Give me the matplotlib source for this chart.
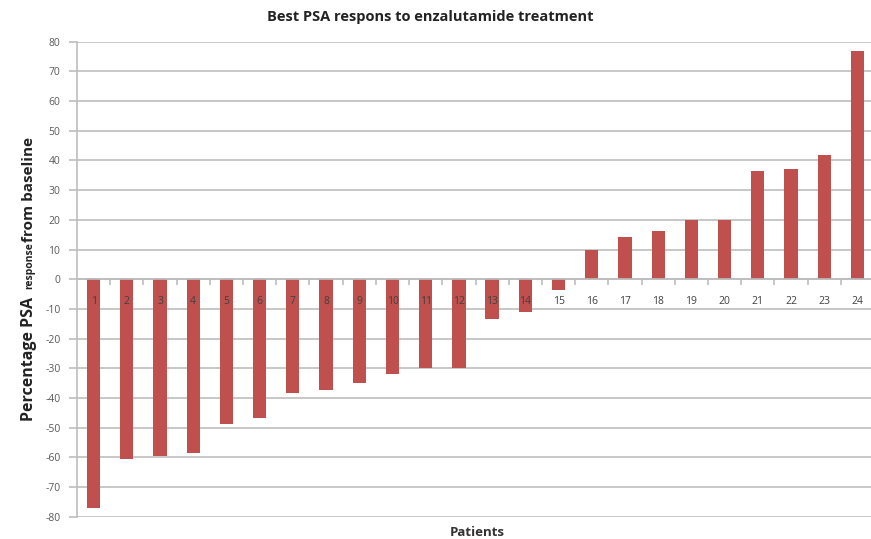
import matplotlib
matplotlib.use("Agg")
import matplotlib.pyplot as plt
import numpy as np

# best PSA response per patient (% change from baseline)
patients = list(range(1, 25))
psa_change = [-77, -60.5, -59.6, -58.6, -48.8, -46.8, -38.5, -37.3, -35, -31.9, -29.9, -29.8,
              -13.3, -11.2, -3.5, 9.7, 14.3, 16.1, 19.8, 20, 36.3, 37.2, 42, 76.8]
y_ticks = list(range(-80, 90, 10))

BAR_COLOR = "#C0504D"
GRID = "#bdbdbd"
TXT = "#595959"

plt.rcParams['font.family'] = ['Open Sans', 'DejaVu Sans']

fig = plt.figure(figsize=(8.71, 5.39), dpi=100)
ax = fig.add_axes([77 / 871, 1 - 516.7 / 539, 797 / 871, 475 / 539])

ax.bar(patients, psa_change, width=0.4, color=BAR_COLOR, zorder=2)

ax.set_xlim(0.5, 24.5)
ax.set_ylim(-80, 80)
ax.set_yticks(y_ticks)
ax.set_yticklabels([str(v) for v in y_ticks], fontsize=7.5, color=TXT)
ax.yaxis.grid(True, color=GRID, lw=1.2, zorder=0)
ax.set_axisbelow(True)
ax.tick_params(axis='y', length=6, color=GRID, width=1.2, pad=6)

# category axis sits on the zero line, labels drawn over the bars
ax.spines['bottom'].set_position(('data', 0))
ax.spines['bottom'].set_color(GRID)
ax.spines['bottom'].set_linewidth(1.2)
ax.spines['left'].set_color(GRID)
ax.spines['left'].set_linewidth(1.2)
ax.spines['top'].set_visible(False)
ax.spines['right'].set_visible(False)
ax.set_xticks(patients)
ax.set_xticklabels([str(p) for p in patients], fontsize=7.5, color="#404040")
ax.set_xticks(np.arange(1.5, 24.5, 1), minor=True)
ax.tick_params(axis='x', which='major', length=0, pad=12)
ax.tick_params(axis='x', which='minor', length=4, color=GRID, width=1.2, direction='out')
ax.xaxis.set_zorder(5)

fig.text(430 / 871, 1 - 17 / 539, "Best PSA respons to enzalutamide treatment",
         ha='center', va='center', fontsize=10.5, fontweight='bold', color="#222222")
fig.text(477 / 871, 1 - 532 / 539, "Patients", ha='center', va='center',
         fontsize=9.5, fontweight='bold', color="#333333")

# y label with a smaller middle word, as in the original
fig.text(29 / 871, 1 - 421 / 539, "Percentage PSA", rotation=90, ha='center', va='bottom',
         fontsize=11.5, fontweight='bold', color="#222222")
fig.text(30 / 871, 1 - 289 / 539, "response", rotation=90, ha='center', va='bottom',
         fontsize=7.5, fontweight='bold', color="#222222")
fig.text(29 / 871, 1 - 242 / 539, "from baseline", rotation=90, ha='center', va='bottom',
         fontsize=11, fontweight='bold', color="#222222")

fig.savefig("out.png", dpi=100)
